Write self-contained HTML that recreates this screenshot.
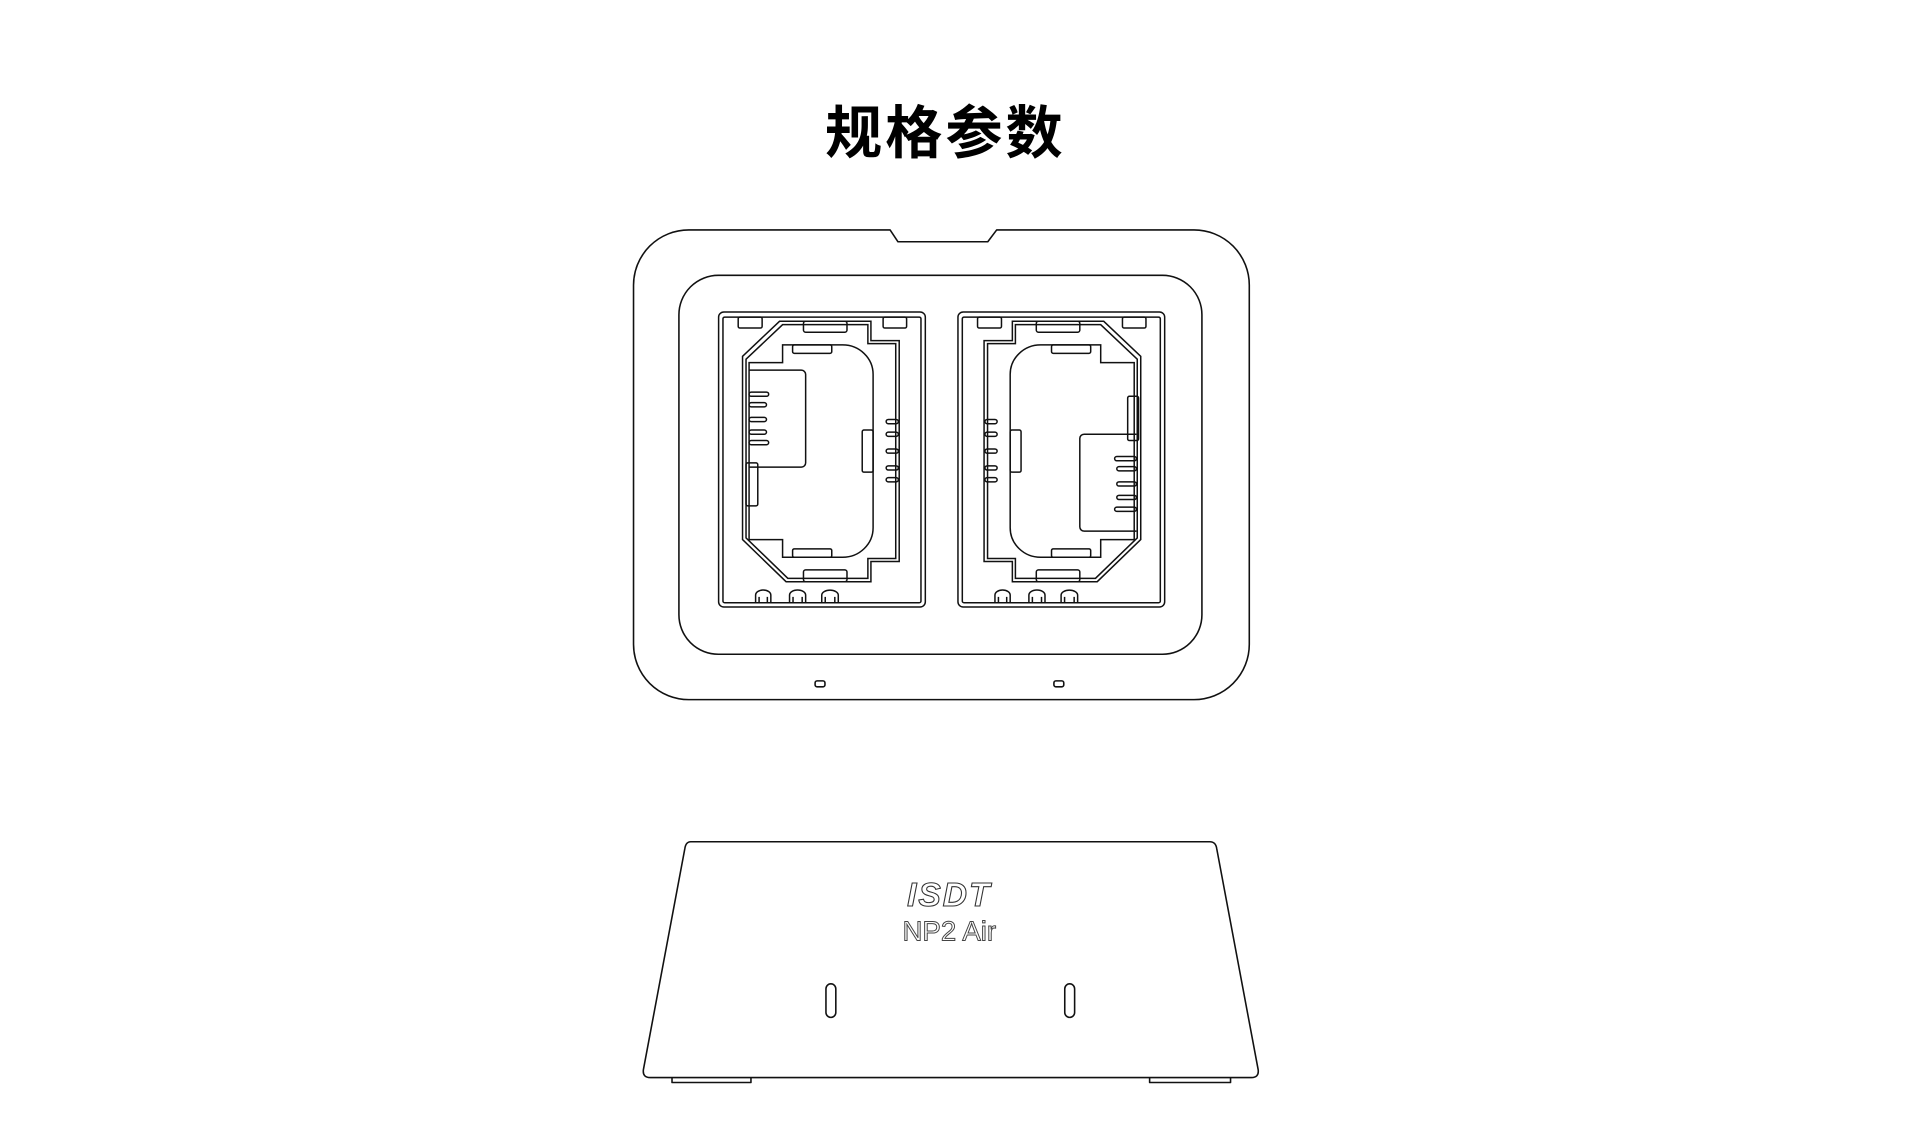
<!DOCTYPE html>
<html><head><meta charset="utf-8"><style>
html,body{margin:0;padding:0;background:#fff;}
svg{display:block}
</style></head><body>
<svg width="1920" height="1147" viewBox="0 0 1920 1147" xmlns="http://www.w3.org/2000/svg">
<g transform="scale(0.9868)">
<text x="958" y="155" text-anchor="middle" font-family="'Liberation Sans','Noto Sans CJK SC',sans-serif" font-weight="bold" font-size="58" fill="#000" letter-spacing="3">规格参数</text>

<g fill="none" stroke="#111" stroke-width="1.6" stroke-linejoin="round">
<path d="M698,233 H902 L910,245 H1001 L1010,233 H1210 A56,56 0 0 1 1266,289 V653 A56,56 0 0 1 1210,709 H698 A56,56 0 0 1 642,653 V289 A56,56 0 0 1 698,233 Z"/>
<rect x="688" y="279" width="530" height="384" rx="40"/>
<rect x="826" y="690" width="10" height="6" rx="2"/>
<rect x="1068" y="690" width="10" height="6" rx="2"/>
</g>

<g transform="translate(629,60) scale(0.441,0.427)" fill="none" stroke="#111">
<defs>
<g id="frame">
<rect x="225" y="600" width="475" height="700" rx="12" vector-effect="non-scaling-stroke"/>
<rect x="235" y="612" width="455" height="678" rx="4" vector-effect="non-scaling-stroke"/>
<path d="M365,622 H575 V668 H640 V1192 H575 V1240 H380 L280,1140 V705 Z" vector-effect="non-scaling-stroke"/>
<path d="M372,630 H568 V675 H632 V1185 H568 V1232 H384 L288,1136 V712 Z" vector-effect="non-scaling-stroke"/>
<path d="M372,678 H510 A70,70 0 0 1 580,748 V1112 A70,70 0 0 1 510,1182 H372 V1140 H295 V720 H372 Z" vector-effect="non-scaling-stroke"/>
<rect x="420" y="622" width="100" height="26" rx="5" vector-effect="non-scaling-stroke"/>
<rect x="395" y="678" width="90" height="20" rx="4" vector-effect="non-scaling-stroke"/>
<rect x="395" y="1162" width="90" height="20" rx="4" vector-effect="non-scaling-stroke"/>
<rect x="420" y="1212" width="100" height="28" rx="5" vector-effect="non-scaling-stroke"/>
<rect x="555" y="880" width="25" height="100" rx="4" vector-effect="non-scaling-stroke"/>
<rect x="610" y="855" width="28" height="10" rx="5" vector-effect="non-scaling-stroke"/>
<rect x="610" y="885" width="28" height="10" rx="5" vector-effect="non-scaling-stroke"/>
<rect x="610" y="925" width="28" height="10" rx="5" vector-effect="non-scaling-stroke"/>
<rect x="610" y="965" width="28" height="10" rx="5" vector-effect="non-scaling-stroke"/>
<rect x="610" y="993" width="28" height="10" rx="5" vector-effect="non-scaling-stroke"/>
</g>
<g id="nubs">
<path d="M310,1290 V1272 A17,12 0 0 1 345,1272 V1290 M318,1290 V1276 M337,1290 V1276" vector-effect="non-scaling-stroke"/>
<path d="M388,1290 V1272 A18,12 0 0 1 425,1272 V1290 M396,1290 V1276 M417,1290 V1276" vector-effect="non-scaling-stroke"/>
<path d="M462,1290 V1272 A19,12 0 0 1 500,1272 V1290 M470,1290 V1276 M492,1290 V1276" vector-effect="non-scaling-stroke"/>
<rect x="270" y="612" width="55" height="26" rx="4" vector-effect="non-scaling-stroke"/>
<rect x="603" y="612" width="54" height="26" rx="4" vector-effect="non-scaling-stroke"/>
</g>
</defs>
<g stroke-width="1.5">
<use href="#frame"/>
<use href="#nubs"/>
<path d="M295,738 H415 A10,10 0 0 1 425,748 V958 A10,10 0 0 1 415,968 H295" vector-effect="non-scaling-stroke"/>
<rect x="295" y="790" width="45" height="10" rx="5" vector-effect="non-scaling-stroke"/>
<rect x="295" y="815" width="40" height="10" rx="5" vector-effect="non-scaling-stroke"/>
<rect x="295" y="850" width="40" height="10" rx="5" vector-effect="non-scaling-stroke"/>
<rect x="295" y="880" width="40" height="10" rx="5" vector-effect="non-scaling-stroke"/>
<rect x="295" y="905" width="45" height="10" rx="5" vector-effect="non-scaling-stroke"/>
<rect x="288" y="958" width="27" height="102" rx="4" vector-effect="non-scaling-stroke"/>

<g transform="translate(1475,0) scale(-1,1)"><use href="#frame"/></g>
<g transform="translate(550,0)"><use href="#nubs"/></g>
<path d="M1185,890 H1065 A10,10 0 0 0 1055,900 V1110 A10,10 0 0 0 1065,1120 H1185" vector-effect="non-scaling-stroke"/>
<rect x="1135" y="943" width="50" height="10" rx="5" vector-effect="non-scaling-stroke"/>
<rect x="1140" y="967" width="45" height="10" rx="5" vector-effect="non-scaling-stroke"/>
<rect x="1140" y="1003" width="45" height="10" rx="5" vector-effect="non-scaling-stroke"/>
<rect x="1140" y="1035" width="45" height="10" rx="5" vector-effect="non-scaling-stroke"/>
<rect x="1135" y="1063" width="50" height="10" rx="5" vector-effect="non-scaling-stroke"/>
<rect x="1165" y="800" width="25" height="105" rx="4" vector-effect="non-scaling-stroke"/>
</g>
</g>

<g fill="none" stroke="#111" stroke-width="1.6" stroke-linejoin="round">
<path d="M700,853 H1226 Q1232,853 1233,860 L1275,1084 Q1276,1092 1268,1092 H659 Q651,1092 652,1084 L694,860 Q695,853 700,853 Z"/>
<path d="M681,1092 V1097 H761 V1092"/>
<path d="M1165,1092 V1097 H1247 V1092"/>
<rect x="837" y="997" width="10" height="34" rx="5"/>
<rect x="1079" y="997" width="10" height="34" rx="5"/>
</g>
<text x="962" y="918" text-anchor="middle" font-family="'Liberation Sans',sans-serif" font-style="italic" font-weight="bold" font-size="34" fill="#fff" stroke="#333" stroke-width="1.1" letter-spacing="2">ISDT</text>
<text x="962" y="953" text-anchor="middle" font-family="'Liberation Sans',sans-serif" font-size="28" fill="#fff" stroke="#444" stroke-width="1">NP2 Air</text>
</g>
</svg>
</body></html>
